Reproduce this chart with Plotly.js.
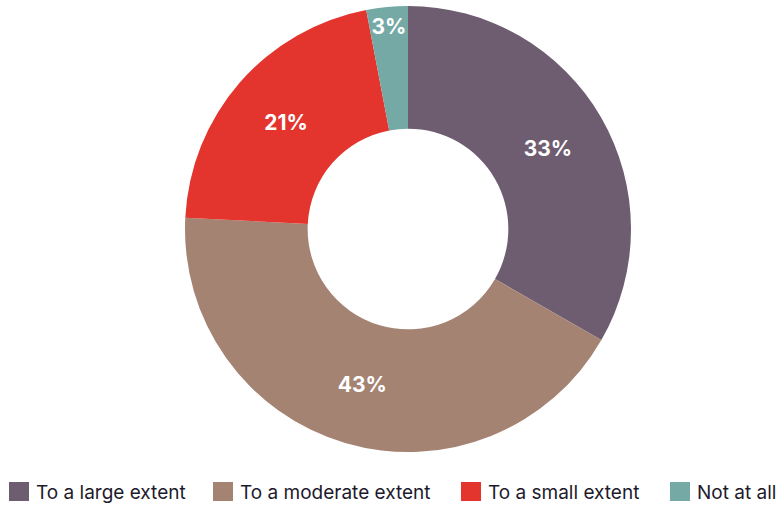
<!DOCTYPE html>
<html>
<head>
<meta charset="utf-8">
<script src="https://cdn.plot.ly/plotly-3.0.1.min.js"></script>
<style>html,body{margin:0;padding:0;background:#fff;}#chart{width:783px;height:508px;}</style>
</head>
<body>
<div id="chart"></div>
<script>
const categories = ["To a large extent", "To a moderate extent", "To a small extent", "Not at all"];
const values = [33.3, 42.5, 21.2, 3.0];
const valueLabels = ["33%", "43%", "21%", "3%"];
const colors = ["#6e5c70", "#a48373", "#e3352d", "#74a9a5"];

// legend layout (pixel positions of each legend swatch)
const legendSwatchX = [9, 213, 461, 670];
const W = 783, H = 508;
const ML = 185, MT = 6, MB = 56, PW = 446, PH = 446;

const trace = {
  type: "pie",
  labels: categories,
  values: values,
  text: valueLabels,
  hole: 0.45,
  sort: false,
  direction: "clockwise",
  rotation: 0,
  marker: {colors: colors, line: {color: "#ffffff", width: 0}},
  textinfo: "text",
  textposition: "inside",
  insidetextorientation: "horizontal",
  textfont: {family: "Inter, sans-serif", size: 21, color: "#ffffff", weight: 700},
  hoverinfo: "label+text"
};

const px2x = p => (p - ML) / PW;
const py2y = p => (H - MB - p) / PH;

const shapes = [];
const annotations = [];
categories.forEach((c, i) => {
  const x0 = legendSwatchX[i];
  shapes.push({
    type: "rect", xref: "paper", yref: "paper",
    x0: px2x(x0), x1: px2x(x0 + 20),
    y0: py2y(501), y1: py2y(482),
    fillcolor: colors[i], line: {width: 0}
  });
  annotations.push({
    xref: "paper", yref: "paper",
    x: px2x(x0 + 25), y: py2y(492),
    xanchor: "left", yanchor: "middle",
    text: c, showarrow: false,
    font: {family: "Inter, sans-serif", size: 19, color: "#1d1a2c"}
  });
});

const layout = {
  width: W,
  height: H,
  margin: {l: ML, r: W - ML - PW, t: MT, b: MB},
  paper_bgcolor: "#ffffff",
  showlegend: false,
  uniformtext: {minsize: 21, mode: "show"},
  shapes: shapes,
  annotations: annotations
};

Plotly.newPlot("chart", [trace], layout, {displayModeBar: false, staticPlot: true});
</script>
</body>
</html>
